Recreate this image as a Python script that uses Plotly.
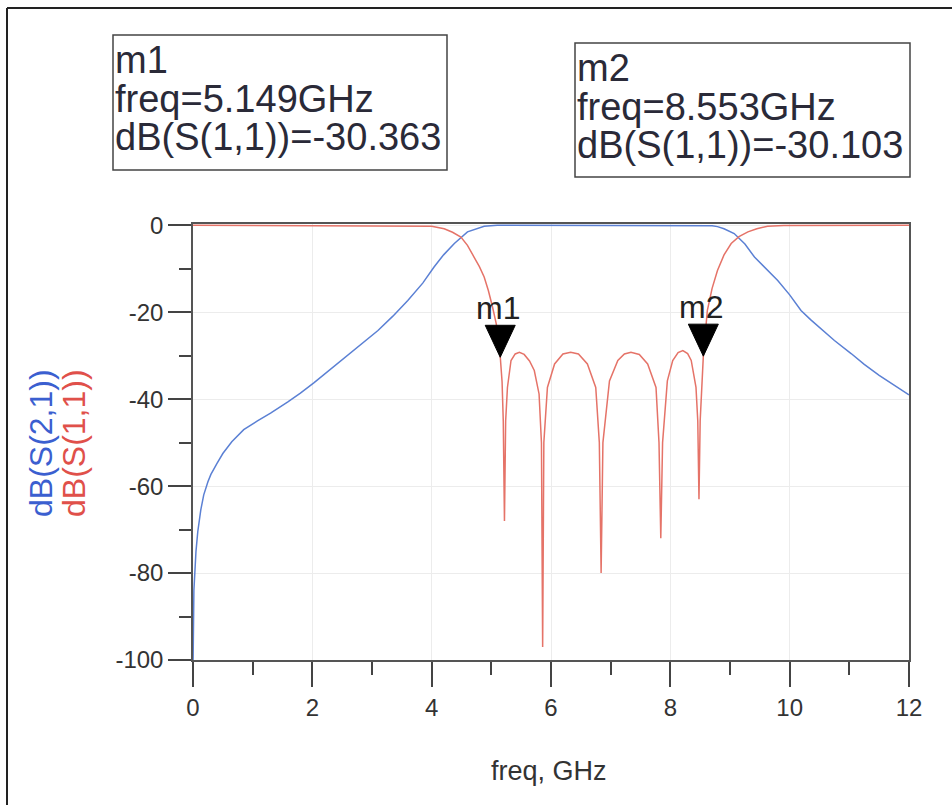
import plotly.graph_objects as go

# ---- data ----
s21_freq = [0.002, 0.006, 0.015, 0.05, 0.08, 0.13, 0.18, 0.25, 0.3, 0.4, 0.5, 0.65, 0.85, 1.08,
            1.3, 1.59, 1.8, 2.03, 2.3, 2.59, 2.85, 3.1, 3.35, 3.6, 3.85, 4.04, 4.2, 4.38, 4.6,
            4.88, 5.1, 8.6, 8.7, 8.79, 8.9, 9.07, 9.25, 9.41, 9.6, 9.8, 10.0, 10.19, 10.35, 10.5,
            10.75, 11.03, 11.25, 11.5, 11.75, 12.0]
s21_db = [-100, -92, -84, -75, -70.5, -65.5, -62, -59, -57.3, -54.8, -52.5, -49.8, -47, -45,
          -43.2, -40.6, -38.6, -36.2, -33.2, -30, -27.2, -24.2, -20.9, -17.3, -13.3, -9.6, -6.8, -4.2, -1.5,
          -0.2, 0, 0, -0.1, -0.3, -0.8, -1.9, -4.3, -7.3, -10, -12.7, -16, -19.6, -21.7, -23.5,
          -26.5, -29.5, -32, -34.5, -36.8, -39]

s11_freq = [0, 3.8, 4.0, 4.21, 4.35, 4.49, 4.6, 4.71, 4.8, 4.88, 4.95, 5.02, 5.08, 5.13, 5.149,
            5.18, 5.2, 5.22, 5.24, 5.27, 5.33, 5.40, 5.47, 5.55, 5.64, 5.72, 5.80, 5.84, 5.86,
            5.88, 5.94, 6.06, 6.2, 6.33, 6.46, 6.61, 6.75, 6.81, 6.84, 6.87, 6.98, 7.12, 7.23,
            7.34, 7.48, 7.62, 7.76, 7.81, 7.84, 7.87, 7.95, 8.04, 8.13, 8.21, 8.29, 8.35, 8.43,
            8.46, 8.48, 8.50, 8.553, 8.62, 8.7, 8.79, 8.9, 9.02, 9.15, 9.3, 9.45, 9.63, 9.9, 12]
s11_db = [0, -0.05, -0.2, -0.8, -1.6, -2.7, -4.6, -7.3, -9.5, -11.9, -15, -18.8, -22.5, -26.5, -30.363,
          -36, -45, -68, -45, -37.3, -31.1, -29.6, -29.2, -29.7, -31.2, -33.4, -38.8, -50, -97,
          -50, -37.3, -31.9, -29.6, -29.2, -29.6, -31.9, -37.3, -50, -80, -50, -35.8, -31.1, -29.6,
          -29.2, -29.7, -31.9, -37.3, -50, -72, -50, -35.8, -31.1, -29.3, -28.8, -29.5, -31.1, -37.3,
          -45, -63, -45, -30.103, -19.6, -14.5, -10.4, -6.8, -4.2, -2.6, -1.5, -0.8, -0.2, -0.05, 0]

marker_names = ["m1", "m2"]
marker_freq = [5.149, 8.553]
marker_db = [-30.363, -30.103]

x_ticks = [0, 2, 4, 6, 8, 10, 12]
y_ticks = [0, -20, -40, -60, -80, -100]

FONT = "Liberation Sans, Arial, sans-serif"
TXT = "#333333"
BLUE_LINE = "#5b80d4"
RED_LINE = "#e57368"
BLUE_TXT = "#3b5fd0"
RED_TXT = "#e0504a"

# layout geometry (pixels)
W, H = 952, 805
L, R, T, B = 193, 43, 224, 145
PW = W - L - R
PH = H - T - B


def px(p):
    return (p - L) / PW


def py(q):
    return (H - B - q) / PH


fig = go.Figure()
fig.add_trace(go.Scatter(x=s21_freq, y=s21_db, mode="lines",
                         line=dict(color=BLUE_LINE, width=1.5), name="dB(S(2,1))"))
fig.add_trace(go.Scatter(x=s11_freq, y=s11_db, mode="lines",
                         line=dict(color=RED_LINE, width=1.5), name="dB(S(1,1))"))

shapes = []
annotations = []

# marker triangles and labels
for name, f, d in zip(marker_names, marker_freq, marker_db):
    shapes.append(dict(type="path", xref="x", yref="y", xsizemode="pixel", ysizemode="pixel",
                       xanchor=f, yanchor=d, path="M -15,32 L 15,32 L 0,0 Z",
                       fillcolor="black", line=dict(color="black", width=1)))
    annotations.append(dict(x=f, y=d, xref="x", yref="y", text=name, showarrow=False,
                            xanchor="center", yanchor="bottom", yshift=29, xshift=-2,
                            font=dict(family=FONT, size=32, color="#222222")))

# marker readout boxes: (left, top, right, bottom) in pixels
box_rects = [(113, 35, 447, 170), (575, 43, 910, 177)]
BOX_FS = 38
for (x0, y0, x1, y1), name, f, d in zip(box_rects, marker_names, marker_freq, marker_db):
    shapes.append(dict(type="rect", xref="paper", yref="paper",
                       x0=px(x0), x1=px(x1), y0=py(y0), y1=py(y1),
                       line=dict(color="#444444", width=1.5), fillcolor="white", layer="below"))
    lines = [name, f"freq={f:.3f}GHz", f"dB(S(1,1))={d:.3f}"]
    for k, txt in enumerate(lines):
        baseline = y0 + 38 + 38.5 * k
        annotations.append(dict(
            x=px(x0 + 1), y=py(baseline - 0.33 * BOX_FS), xref="paper", yref="paper",
            xanchor="left", yanchor="middle", align="left", showarrow=False, text=txt,
            font=dict(family=FONT, size=BOX_FS, color="#2a2a38"), borderpad=0))

# axis titles
annotations.append(dict(x=px(41), y=py(443), xref="paper", yref="paper", text="dB(S(2,1))",
                        textangle=-90, showarrow=False, xanchor="center", yanchor="middle",
                        font=dict(family=FONT, size=32, color=BLUE_TXT)))
annotations.append(dict(x=px(74), y=py(443), xref="paper", yref="paper", text="dB(S(1,1))",
                        textangle=-90, showarrow=False, xanchor="center", yanchor="middle",
                        font=dict(family=FONT, size=32, color=RED_TXT)))
annotations.append(dict(x=px(549), y=py(771), xref="paper", yref="paper", text="freq, GHz",
                        showarrow=False, xanchor="center", yanchor="middle",
                        font=dict(family=FONT, size=27, color=TXT)))

# outer frame (left and top edges visible in the reference)
shapes.append(dict(type="line", xref="paper", yref="paper", x0=px(7), x1=px(7), y0=py(8), y1=py(805),
                   line=dict(color="#222222", width=2), layer="below"))
shapes.append(dict(type="line", xref="paper", yref="paper", x0=px(7), x1=px(952), y0=py(8), y1=py(8),
                   line=dict(color="#222222", width=2), layer="below"))

fig.update_layout(
    width=W, height=H,
    margin=dict(l=L, r=R, t=T, b=B, pad=0),
    paper_bgcolor="white", plot_bgcolor="white",
    showlegend=False,
    shapes=shapes, annotations=annotations,
    font=dict(family=FONT, color=TXT),
    xaxis=dict(range=[0, 12], tickvals=x_ticks, ticktext=[str(v) for v in x_ticks],
               ticks="outside", ticklen=25, tickwidth=1.5, tickcolor="#444444",
               showline=True, linecolor="#555555", linewidth=1.5, mirror=True,
               showgrid=True, gridcolor="#ececec", gridwidth=1, zeroline=False,
               tickfont=dict(family=FONT, size=24, color=TXT),
               minor=dict(dtick=1, tick0=0, ticks="outside", ticklen=13, tickwidth=1.5,
                          tickcolor="#444444", showgrid=False)),
    yaxis=dict(range=[-100, 0.3], tickvals=y_ticks, ticktext=[str(v) for v in y_ticks],
               ticks="outside", ticklen=23, tickwidth=1.5, tickcolor="#444444",
               showline=True, linecolor="#555555", linewidth=1.5, mirror=True,
               showgrid=True, gridcolor="#ececec", gridwidth=1, zeroline=False,
               tickfont=dict(family=FONT, size=24, color=TXT),
               minor=dict(dtick=10, tick0=0, ticks="outside", ticklen=12, tickwidth=1.5,
                          tickcolor="#444444", showgrid=False)),
)

fig.write_html("out.html")
